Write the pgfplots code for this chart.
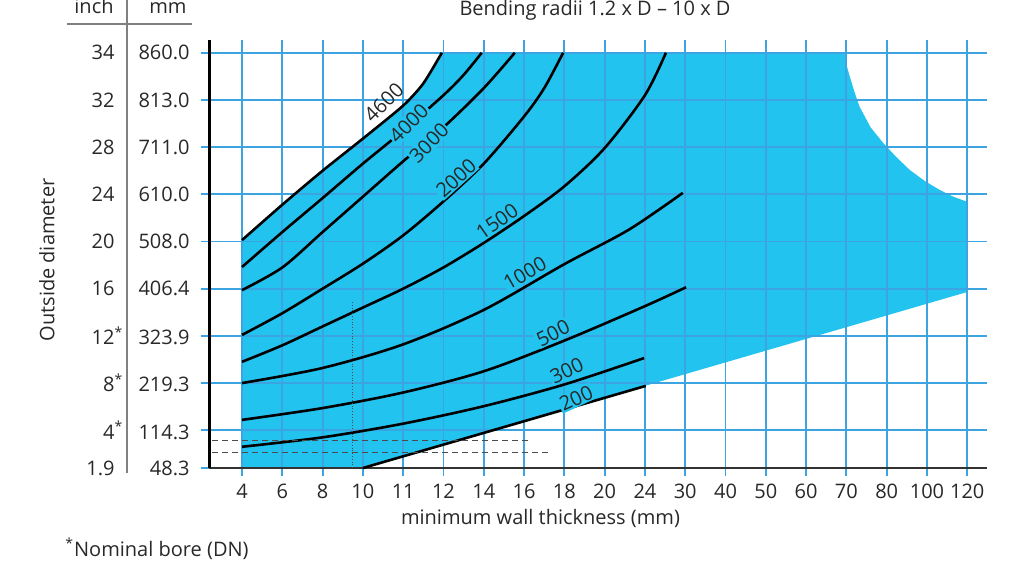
\documentclass[border=0pt]{standalone}
\usepackage{fontspec}
\setmainfont{Open Sans}
\usepackage{pgfplots}
\pgfplotsset{compat=1.18}
\definecolor{fillc}{RGB}{35,195,240}
\definecolor{gridc}{RGB}{60,165,225}
\definecolor{txt}{RGB}{40,40,40}
\newcommand{\yl}[2]{\makebox[14pt][r]{#1}\makebox[37.5pt][r]{#2}}
\newcommand{\st}{\rlap{\textsuperscript{*}}}
\begin{document}
\begin{tikzpicture}[font=\fontsize{10}{12}\selectfont, text=txt]
\begin{axis}[
  at={(0pt,0pt)}, anchor=south west,
  width=389pt, height=214pt, scale only axis,
  xmin=-0.82, xmax=18.49, ymin=0, ymax=9.07,
  axis lines=left, axis line style={-},
  x axis line style={line width=1pt, black!80},
  y axis line style={line width=1.5pt, black},
  xtick={0,...,18},
  xticklabels={4,6,8,10,11,12,14,16,18,20,24,30,40,50,60,70,80,100,120},
  ytick={0,0.8,1.8,2.8,3.8,4.8,5.8,6.8,7.8,8.8},
  yticklabels={\yl{1.9}{48.3},\yl{4\st}{114.3},\yl{8\st}{219.3},\yl{12\st}{323.9},\yl{16}{406.4},\yl{20}{508.0},\yl{24}{610.0},\yl{28}{711.0},\yl{32}{813.0},\yl{34}{860.0}},
  grid=major, grid style={gridc, line width=0.9pt},
  tick style={gridc, line width=0.9pt},
  tick align=outside, major tick length=4pt,
  yticklabel style={anchor=east, inner sep=0pt, xshift=-5.5pt},
  xticklabel style={anchor=north, inner sep=0pt, yshift=-3.75pt},
  tick label style={font=\fontsize{10}{12}\selectfont, text=txt},
  set layers,
  clip=false,
]
% blue region
\addplot[fill=fillc, draw=none, on layer=axis background] coordinates {
 (0,0) (0,4.83) (1,5.58) (2,6.3) (3,6.98) (4,7.68) (4.5,8.15) (4.96,8.8)
 (14.96,8.8) (15.0,8.55) (15.09,8.28) (15.2,7.97) (15.33,7.65) (15.6,7.22)
 (15.91,6.89) (16.25,6.58) (16.58,6.31) (16.95,6.08) (17.32,5.89) (17.65,5.75) (18,5.64)
 (18,3.73) (3,0)
};
% curves
\addplot[black, line width=1.3pt, smooth, tension=0.4] coordinates {(0,4.83) (1,5.58) (2,6.3) (3,6.98) (4,7.68) (4.5,8.15) (4.96,8.8)};
\addplot[black, line width=1.3pt, smooth, tension=0.5] coordinates {(0,4.26) (1,5.0) (2,5.72) (3,6.45) (4,7.15) (5,7.9) (5.5,8.33) (5.95,8.8)};
\addplot[black, line width=1.3pt, smooth, tension=0.5] coordinates {(0,3.77) (1,4.25) (2,5.0) (3,5.75) (4,6.5) (5,7.22) (6,8.05) (6.77,8.8)};
\addplot[black, line width=1.3pt, smooth, tension=0.5] coordinates {(0,2.82) (1,3.28) (2,3.8) (3,4.33) (4,4.93) (5,5.65) (6,6.45) (7,7.45) (7.5,8.05) (7.97,8.8)};
\addplot[black, line width=1.3pt, smooth, tension=0.5] coordinates {(0,2.25) (1,2.6) (2,3.0) (3,3.4) (4,3.8) (5,4.25) (6,4.77) (7,5.34) (8,5.97) (9,6.78) (10,7.9) (10.52,8.8)};
\addplot[black, line width=1.3pt, smooth, tension=0.5] coordinates {(0,1.8) (2,2.12) (4,2.62) (6,3.35) (8,4.32) (9.6,5.05) (10.94,5.83)};
\addplot[black, line width=1.3pt, smooth, tension=0.5] coordinates {(0,1.02) (2,1.27) (4,1.6) (6,2.05) (8,2.7) (10,3.43) (11.02,3.83)};
\addplot[black, line width=1.3pt, smooth, tension=0.5] coordinates {(0,0.45) (2,0.65) (4,0.94) (6,1.31) (8,1.77) (9.98,2.33)};
\addplot[black, line width=1.3pt] coordinates {(3,0) (10.02,1.74)};
% pencil marks in the scan
\addplot[black!70, line width=0.4pt, densely dashed] coordinates {(-0.74,0.59) (7.12,0.59)};
\addplot[black!70, line width=0.4pt, densely dashed] coordinates {(-0.74,0.34) (7.6,0.34)};
\addplot[black!70, line width=0.4pt, densely dotted] coordinates {(2.73,0) (2.73,3.56)};
% curve labels
\node[rotate=45, inner sep=0.3pt] at (axis cs:3.52,7.75) {4600};
\begin{scope}[every node/.style={inner sep=0.6pt, fill=fillc}]
\node[rotate=45] at (axis cs:4.14,7.31) {4000};
\node[rotate=45] at (axis cs:4.64,6.89) {3000};
\node[rotate=42] at (axis cs:5.31,6.14) {2000};
\node[rotate=35] at (axis cs:6.33,5.23) {1500};
\node[rotate=30] at (axis cs:7.02,4.13) {1000};
\node[rotate=27] at (axis cs:7.72,2.86) {500};
\node[rotate=25] at (axis cs:8.06,2.06) {300};
\node[rotate=25] at (axis cs:8.29,1.48) {200};
\end{scope}
\end{axis}
% table header and separators
\draw[black!50, line width=0.6pt] (-71pt,222pt) -- (-8.5pt,222pt);
\draw[black!50, line width=0.6pt] (-41pt,236pt) -- (-41pt,-2.5pt);
\node[anchor=base] at (-57.5pt,227.5pt) {inch};
\node[anchor=base] at (-20.5pt,227.5pt) {mm};
\node[anchor=base] at (193pt,226.5pt) {Bending radii 1.2 x D – 10 x D};
\node[rotate=90] at (-81pt,104pt) {Outside diameter};
\node[anchor=base] at (165.75pt,-28pt) {minimum wall thickness (mm)};
\node[anchor=base west, inner sep=0pt] at (-72pt,-44pt) {\textsuperscript{*}Nominal bore (DN)};
\pgfresetboundingbox
\useasboundingbox (-104.5pt,-53.5pt) rectangle (406.5pt,234pt);
\end{tikzpicture}
\end{document}
